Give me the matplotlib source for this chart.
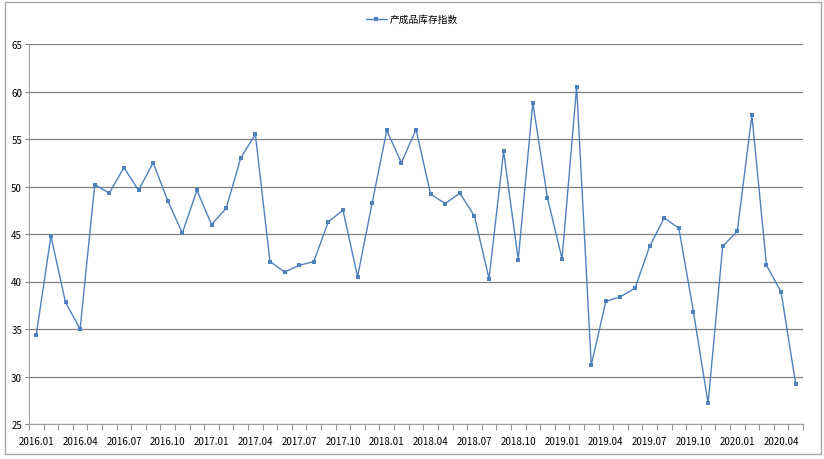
import numpy as np
import matplotlib
matplotlib.use('Agg')
import matplotlib.pyplot as plt
from matplotlib.patches import Rectangle

plt.rcParams['font.family'] = ['Noto Sans CJK SC', 'DejaVu Sans']

# monthly index, 2016.01 - 2020.05
months = ['%d.%02d' % (y, m) for y in range(2016, 2021) for m in range(1, 13)][:53]
values = [34.4, 44.8, 37.8, 35.0, 50.2, 49.3, 52.0, 49.6, 52.5, 48.5, 45.1, 49.6,
          46.0, 47.7, 53.0, 55.5, 42.1, 41.0, 41.7, 42.1, 46.3, 47.5, 40.5, 48.3,
          55.9, 52.5, 56.0, 49.2, 48.2, 49.3, 46.9, 40.3, 53.7, 42.3, 58.8, 48.8,
          42.4, 60.5, 31.2, 37.9, 38.4, 39.3, 43.7, 46.7, 45.6, 36.8, 27.2, 43.7,
          45.3, 57.5, 41.7, 38.9, 29.2]
series_name = '产成品库存指数'

fig = plt.figure(figsize=(8.24, 4.6), dpi=100)
fig.patches.append(Rectangle((5 / 824, 5 / 460), 816 / 824, 452 / 460, transform=fig.transFigure,
                             fill=False, edgecolor='#a6a6a6', linewidth=1))
ax = fig.add_axes([29 / 824, 35 / 460, 774 / 824, 380 / 460])

x = np.arange(len(values))
ax.plot(x, values, color='#4f81bd', linewidth=1, marker='s', markersize=3,
        markeredgewidth=0, label=series_name)

ax.set_xlim(-0.5, len(values) - 0.5)
ax.set_ylim(25, 65)
ax.set_yticks(np.arange(25, 66, 5))
ax.yaxis.grid(True, color='#808080', linewidth=0.9)
ax.set_axisbelow(True)

ax.set_xticks(x[::3])
ax.set_xticklabels(months[::3])
ax.set_xticks(np.arange(-0.5, len(values), 1), minor=True)
ax.tick_params(axis='x', which='major', length=0, pad=9, labelsize=7, colors='#000000')
ax.tick_params(axis='x', which='minor', length=4, color='#808080', direction='out')
ax.tick_params(axis='y', length=3, color='#808080', labelsize=7, pad=2)

for s in ['top', 'right']:
    ax.spines[s].set_visible(False)
for s in ['left', 'bottom']:
    ax.spines[s].set_color('#a0a0a0')

fig.legend(loc='center', bbox_to_anchor=(0.5, 20 / 460 * -1 + 1), frameon=False, fontsize=7,
           handlelength=2.2, handletextpad=0.3)

fig.savefig('out.png', dpi=100)
